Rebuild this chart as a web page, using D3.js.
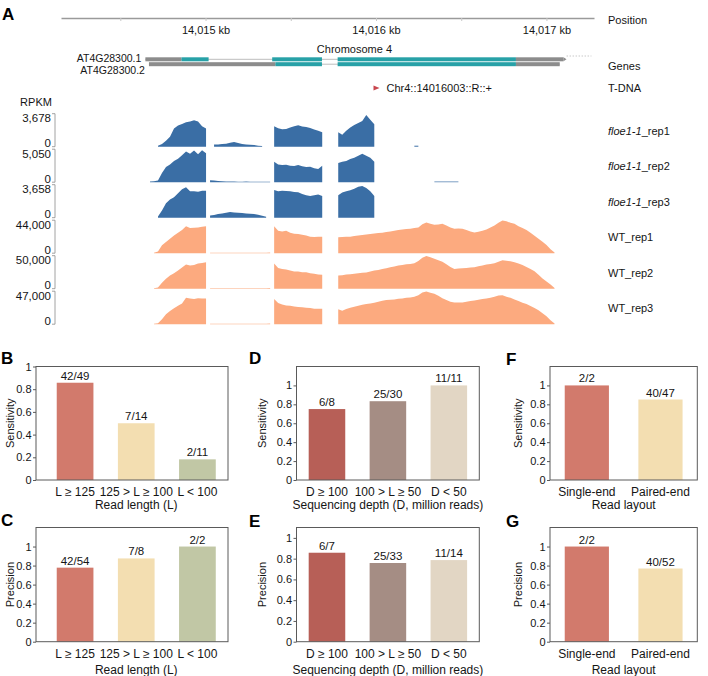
<!DOCTYPE html>
<html>
<head>
<meta charset="utf-8">
<script src="https://cdn.jsdelivr.net/npm/d3@7"></script>
<style>
  body { margin: 0; background: #fff; }
  svg { font-family: "Liberation Sans", Arial, Helvetica, sans-serif; }
</style>
</head>
<body>
<svg id="fig" width="708" height="676"></svg>
<script>
// ---------- panel A data ----------
const posTicks = [14014500, 14015000, 14015500, 14016000, 14016500, 14017000];
const gene1Parts = [[14014647, 14014859, "utr"], [14014859, 14015018, "cds"], [14015391, 14015683, "cds"], [14015775, 14016821, "cds"], [14016821, 14017100, "utr"]];
const gene2Parts = [[14014668, 14015410, "utr"], [14015410, 14015683, "cds"], [14015775, 14016821, "cds"], [14016821, 14017078, "utr"]];
const geneNames = ["AT4G28300.1", "AT4G28300.2"];
const neighbourSpan = [14017118, 14017264];
const tdnaPos = 14016003;
const tdnaLabel = "Chr4::14016003::R::+";

// coverage bins: start bp and bin width, values in % of each track's data range
const covStartBp = 14014674;
const covStepBp = 23.5;
const trackNames = ["floe1-1_rep1", "floe1-1_rep2", "floe1-1_rep3", "WT_rep1", "WT_rep2", "WT_rep3"];
const trackMax = [3678, 5050, 3658, 44000, 50000, 47000];

// each entry: [first bin, values]
const floeRep1 = [
  [2, [3, 8, 18, 30, 55, 64, 69, 74, 76, 80, 76, 62, 55]],
  [16, [7, 7, 8, 9, 12, 14, 11, 8, 7, 6, 5, 3, 2]],
  [31, [62, 56, 53, 54, 58, 62, 65, 61, 60, 57, 52, 48, 44]],
  [47, [44, 36, 48, 58, 66, 72, 78, 96, 82, 68]],
  [66, [3, 3]]
];
const floeRep2 = [
  [0, [2, 3, 5, 28, 46, 54, 64, 71, 82, 93, 86, 96, 85, 97, 88]],
  [15, [6, 5, 4, 3, 2, 2, 2, 1, 1, 2, 1, 1, 1, 1, 1, 1]],
  [31, [62, 54, 52, 53, 50, 49, 52, 48, 46, 47, 42, 40, 50]],
  [47, [58, 62, 64, 70, 74, 80, 86, 80, 74, 62]],
  [71, [2, 2, 2, 2, 2, 2, 2]]
];
const floeRep3 = [
  [2, [4, 22, 44, 55, 62, 74, 86, 92, 80, 80, 79, 82, 82]],
  [15, [7, 8, 11, 13, 15, 17, 16, 15, 14, 13, 12, 11, 9, 6, 3]],
  [31, [84, 80, 82, 81, 80, 78, 77, 72, 68, 66, 68, 70, 66]],
  [47, [68, 76, 80, 83, 88, 94, 96, 90, 80, 66]]
];
const wtRep1 = [
  [1, [1, 5, 24, 34, 44, 54, 62, 70, 82, 76, 77, 78, 80, 82]],
  [15, [1, 1, 1, 1, 1, 1, 1, 1, 1, 1, 1, 1, 1, 1, 1, 2]],
  [31, [82, 68, 66, 68, 62, 59, 58, 56, 54, 50, 49, 50, 50]],
  [47, [48, 49, 50, 50, 52, 54, 55, 57, 58, 60, 61, 62, 64, 66, 68, 70, 72, 73, 74, 76,
        78, 88, 93, 89, 86, 87, 89, 84, 78, 74, 75, 74, 70, 66, 63, 65, 68, 72, 78, 84,
        92, 99, 97, 92, 89, 82, 76, 70, 62, 53, 44, 35, 25, 12, 2]]
];
const wtRep2 = [
  [1, [1, 4, 18, 30, 40, 47, 55, 64, 73, 70, 72, 76, 78, 80]],
  [15, [1, 1, 1, 1, 1, 1, 1, 1, 1, 1, 1, 1, 1, 1, 1, 2]],
  [31, [76, 63, 60, 58, 55, 52, 52, 50, 50, 47, 45, 43, 42]],
  [47, [40, 41, 43, 44, 45, 47, 48, 49, 52, 55, 57, 60, 62, 65, 67, 70, 72, 74, 75, 77,
        84, 94, 99, 95, 91, 86, 82, 74, 66, 60, 61, 62, 63, 64, 65, 68, 70, 73, 75, 77,
        82, 86, 85, 83, 80, 76, 72, 66, 60, 53, 42, 31, 22, 13, 2]]
];
const wtRep3 = [
  [1, [1, 3, 15, 30, 40, 48, 56, 63, 80, 78, 76, 79, 78, 78]],
  [15, [1, 1, 1, 1, 1, 1, 1, 1, 1, 1, 1, 1, 1, 1, 1, 2]],
  [31, [76, 64, 60, 57, 56, 54, 52, 51, 50, 49, 47, 47, 47]],
  [47, [45, 41, 46, 50, 53, 56, 59, 61, 63, 65, 68, 71, 73, 74, 75, 77, 78, 80, 81, 83,
        88, 96, 99, 95, 92, 86, 79, 73, 68, 66, 66, 66, 68, 70, 72, 74, 76, 78, 80, 83,
        87, 88, 83, 80, 75, 70, 65, 61, 55, 49, 42, 33, 24, 12, 2]]
];
const coverage = [floeRep1, floeRep2, floeRep3, wtRep1, wtRep2, wtRep3];

// ---------- panels B-G data ----------
const lengthCats = ["L \u2265 125", "125 > L \u2265 100", "L < 100"];
const lengthSens = [0.857, 0.5, 0.182];
const lengthSensLabels = ["42/49", "7/14", "2/11"];
const lengthPrec = [0.778, 0.875, 1];
const lengthPrecLabels = ["42/54", "7/8", "2/2"];

const depthCats = ["D \u2265 100", "100 > L \u2265 50", "D < 50"];
const depthSens = [0.75, 0.833, 1];
const depthSensLabels = ["6/8", "25/30", "11/11"];
const depthPrec = [0.857, 0.758, 0.786];
const depthPrecLabels = ["6/7", "25/33", "11/14"];

const layoutCats = ["Single-end", "Paired-end"];
const layoutSens = [1, 0.851];
const layoutSensLabels = ["2/2", "40/47"];
const layoutPrec = [1, 0.769];
const layoutPrecLabels = ["2/2", "40/52"];

const lengthColors = ["#d27a6c", "#f3deb1", "#c1c7a5"];
const depthColors = ["#b75f57", "#a58d84", "#e2d6c4"];
const layoutColors = ["#d27a6c", "#f3deb1"];

const svg = d3.select("#fig");
const textCol = "#151515";

function panelLetter(t, x, y) {
  svg.append("text").attr("x", x).attr("y", y).attr("font-size", 17)
    .attr("font-weight", "bold").attr("fill", "#000").text(t);
}

// ---------- panel A ----------
function drawPanelA() {
  const x = d3.scaleLinear().domain([14014152, 14017279]).range([61, 594]);
  const g = svg.append("g");
  panelLetter("A", 2, 20);

  // position ruler
  const ax = g.append("g").attr("transform", "translate(0,18)")
    .call(d3.axisBottom(x).tickValues(posTicks).tickSize(3).tickSizeOuter(0)
      .tickFormat(d => d % 1000 === 0 ? d3.format(",")(d / 1000) + " kb" : ""));
  ax.select(".domain").attr("stroke", "#9a9a9a").attr("stroke-width", 1.6);
  ax.selectAll(".tick line").attr("stroke", "#c8c8c8");
  ax.selectAll(".tick text").attr("font-size", 11).attr("fill", textCol).attr("dy", "0.95em")
    .attr("font-family", null);

  // right-hand labels
  const right = [["Position", 24], ["Genes", 70], ["T-DNA", 92]];
  right.forEach(r => g.append("text").attr("x", 608).attr("y", r[1])
    .attr("font-size", 11).attr("fill", textCol).text(r[0]));

  // gene models
  g.append("text").attr("x", x((gene1Parts[0][0] + gene1Parts[gene1Parts.length - 1][1]) / 2)).attr("y", 53)
    .attr("text-anchor", "middle").attr("font-size", 11).attr("fill", textCol).text("Chromosome 4");
  const genes = [gene1Parts, gene2Parts];
  const geneY = [59.3, 64.2];
  const labelY = [61.5, 73.5];
  genes.forEach((parts, i) => {
    const gy = geneY[i];
    g.append("line").attr("x1", x(parts[0][0])).attr("x2", x(parts[parts.length - 1][1]))
      .attr("y1", gy).attr("y2", gy).attr("stroke", "#bdbdbd").attr("stroke-width", 1);
    g.selectAll(null).data(parts).enter().append("rect")
      .attr("x", d => x(d[0])).attr("width", d => x(d[1]) - x(d[0]))
      .attr("y", gy - 2).attr("height", 4)
      .attr("fill", d => d[2] === "cds" ? "#27a1a7" : "#8c8c8c");
    g.append("text").attr("x", x(parts[0][0]) - 4).attr("y", labelY[i])
      .attr("text-anchor", "end").attr("font-size", 10.5).attr("fill", textCol).text(geneNames[i]);
  });
  // arrow tip at the 3' end of gene 1
  const tipX = x(gene1Parts[gene1Parts.length - 1][1]);
  g.append("path").attr("d", `M${tipX},${geneY[0] - 2}L${tipX + 3},${geneY[0]}L${tipX},${geneY[0] + 2}Z`)
    .attr("fill", "#8c8c8c");
  g.append("line").attr("x1", x(neighbourSpan[0])).attr("x2", x(neighbourSpan[1]))
    .attr("y1", 56).attr("y2", 56).attr("stroke", "#c8c8c8").attr("stroke-dasharray", "1.5,1.5");

  // T-DNA marker
  const tx = x(tdnaPos);
  g.append("path").attr("d", `M${tx - 3},${85.5}L${tx + 3},${88}L${tx - 3},${90.5}Z`).attr("fill", "#c8464e");
  g.append("text").attr("x", tx + 10).attr("y", 92).attr("font-size", 11).attr("fill", textCol).text(tdnaLabel);

  // coverage tracks
  g.append("text").attr("x", 36).attr("y", 105.5).attr("text-anchor", "middle")
    .attr("font-size", 11).attr("fill", textCol).text("RPKM");
  const fmt = d3.format(",");
  coverage.forEach((segs, t) => {
    const base = 146.7 + 35.5 * t;
    const h = 33;
    const y = d3.scaleLinear().domain([0, 100]).range([base, base - h]);
    const col = t < 3 ? "#3a6ea5" : "#fcaa7f";
    const area = d3.area()
      .x(d => x(covStartBp + d[0] * covStepBp))
      .y0(base).y1(d => y(d[1]));
    segs.forEach(s => {
      const pts = s[1].map((v, k) => [s[0] + k, v]);
      g.append("path").attr("d", area(pts)).attr("fill", col);
    });
    // small data-range axis
    g.append("path").attr("d", `M52,${base - h}H55V${base}H52`).attr("fill", "none")
      .attr("stroke", "#8a8a8a").attr("stroke-width", 0.8);
    g.append("text").attr("x", 51).attr("y", base - h + 8.5).attr("text-anchor", "end")
      .attr("font-size", 11.5).attr("fill", textCol).text(fmt(trackMax[t]));
    g.append("text").attr("x", 51).attr("y", base + 0.5).attr("text-anchor", "end")
      .attr("font-size", 11.5).attr("fill", textCol).text("0");
    // track name
    const name = trackNames[t];
    const lab = g.append("text").attr("x", 608).attr("y", base - 12).attr("font-size", 11).attr("fill", textCol);
    if (name.startsWith("floe1-1")) {
      lab.append("tspan").attr("font-style", "italic").text("floe1-1");
      lab.append("tspan").text(name.slice(7));
    } else {
      lab.text(name);
    }
  });
}

// ---------- bar panels ----------
function drawBars(p) {
  const g = svg.append("g");
  panelLetter(p.letter, p.letterX, p.letterY);
  const x = d3.scaleBand().domain(p.cats).range([p.bandL, p.r]).paddingInner(0.4).paddingOuter(0.2);
  const y = d3.scaleLinear().domain([0, p.yMax]).range([p.b, p.t]);

  g.selectAll(null).data(p.values).enter().append("rect")
    .attr("x", (d, i) => x(p.cats[i])).attr("width", x.bandwidth())
    .attr("y", d => y(d)).attr("height", d => y(0) - y(d))
    .attr("fill", (d, i) => p.colors[i]);

  g.selectAll(null).data(p.values).enter().append("text")
    .attr("x", (d, i) => x(p.cats[i]) + x.bandwidth() / 2).attr("y", d => y(d) - 3)
    .attr("text-anchor", "middle").attr("font-size", 11.5).attr("fill", textCol)
    .text((d, i) => p.labels[i]);

  g.append("rect").attr("x", p.l).attr("y", p.t).attr("width", p.r - p.l).attr("height", p.b - p.t)
    .attr("fill", "none").attr("stroke", "#5a5a5a").attr("stroke-width", 1);

  const ya = g.append("g").attr("transform", `translate(${p.l},0)`)
    .call(d3.axisLeft(y).tickValues([0, 0.2, 0.4, 0.6, 0.8, 1]).tickFormat(d3.format("~g"))
      .tickSize(3).tickPadding(1.5));
  ya.select(".domain").remove();
  ya.selectAll(".tick line").attr("stroke", "#5a5a5a");
  ya.selectAll(".tick text").attr("font-size", 11).attr("fill", textCol).attr("font-family", null);

  g.selectAll(null).data(p.cats).enter().append("text")
    .attr("x", d => x(d) + x.bandwidth() / 2).attr("y", p.b + 16)
    .attr("text-anchor", "middle").attr("font-size", 12).attr("fill", textCol).text(d => d);

  g.append("text").attr("x", (p.bandL + p.r) / 2).attr("y", p.b + p.xTitleDy)
    .attr("text-anchor", "middle").attr("font-size", 12).attr("fill", textCol).text(p.xTitle);

  g.append("text").attr("transform", `translate(${p.yTitleX},${(p.t + p.b) / 2}) rotate(-90)`)
    .attr("text-anchor", "middle").attr("font-size", 11).attr("fill", textCol).text(p.yTitle);
}

drawPanelA();

const topRow = { t: 366.5, b: 480, xTitleDy: 29 };
const botRow = { t: 527.5, b: 641.7, xTitleDy: 32 };

drawBars({ ...topRow, letter: "B", letterX: 1, letterY: 364, l: 36, bandL: 44.5, r: 228, yMax: 1,
  cats: lengthCats, values: lengthSens, labels: lengthSensLabels, colors: lengthColors,
  xTitle: "Read length (L)", yTitle: "Sensitivity", yTitleX: 14 });
drawBars({ ...botRow, letter: "C", letterX: 1, letterY: 526, l: 36, bandL: 44.5, r: 228, yMax: 1.2,
  cats: lengthCats, values: lengthPrec, labels: lengthPrecLabels, colors: lengthColors,
  xTitle: "Read length (L)", yTitle: "Precision", yTitleX: 14 });
drawBars({ ...topRow, letter: "D", letterX: 249, letterY: 364, l: 296.5, bandL: 296.5, r: 479.3, yMax: 1.2,
  cats: depthCats, values: depthSens, labels: depthSensLabels, colors: depthColors,
  xTitle: "Sequencing depth (D, million reads)", yTitle: "Sensitivity", yTitleX: 266 });
drawBars({ ...botRow, letter: "E", letterX: 249, letterY: 527, l: 296.5, bandL: 296.5, r: 479.3, yMax: 1.1,
  cats: depthCats, values: depthPrec, labels: depthPrecLabels, colors: depthColors,
  xTitle: "Sequencing depth (D, million reads)", yTitle: "Precision", yTitleX: 266 });
drawBars({ ...topRow, letter: "F", letterX: 506, letterY: 365, l: 550, bandL: 550, r: 697.3, yMax: 1.2,
  cats: layoutCats, values: layoutSens, labels: layoutSensLabels, colors: layoutColors,
  xTitle: "Read layout", yTitle: "Sensitivity", yTitleX: 522 });
drawBars({ ...botRow, letter: "G", letterX: 506, letterY: 527, l: 550, bandL: 550, r: 697.3, yMax: 1.2,
  cats: layoutCats, values: layoutPrec, labels: layoutPrecLabels, colors: layoutColors,
  xTitle: "Read layout", yTitle: "Precision", yTitleX: 522 });
</script>
</body>
</html>
